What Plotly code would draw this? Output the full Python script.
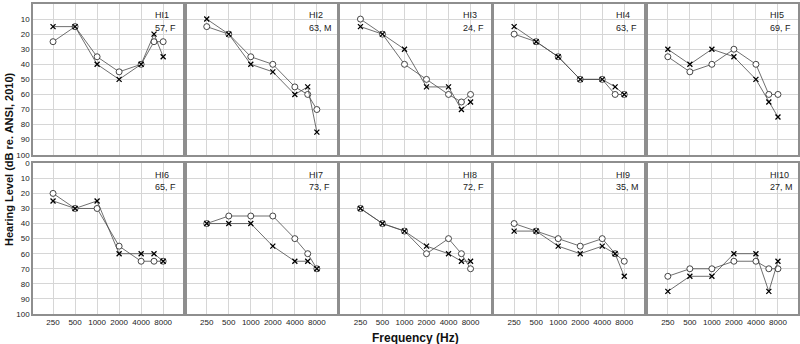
import plotly.graph_objects as go
from plotly.subplots import make_subplots
import math

freqs = [250, 500, 1000, 2000, 4000, 6000, 8000]
tick_freqs = [250, 500, 1000, 2000, 4000, 8000]
y_ticks = [0, 10, 20, 30, 40, 50, 60, 70, 80, 90, 100]

listeners = ["HI1", "HI2", "HI3", "HI4", "HI5", "HI6", "HI7", "HI8", "HI9", "HI10"]
age_sex = ["57, F", "63, M", "24, F", "63, F", "69, F", "65, F", "73, F", "72, F", "35, M", "27, M"]

circle_ear = [
    [25, 15, 35, 45, 40, 25, 25],
    [15, 20, 35, 40, 55, 60, 70],
    [10, 20, 40, 50, 60, 65, 60],
    [20, 25, 35, 50, 50, 60, 60],
    [35, 45, 40, 30, 40, 60, 60],
    [20, 30, 30, 55, 65, 65, 65],
    [40, 35, 35, 35, 50, 60, 70],
    [30, 40, 45, 60, 50, 60, 70],
    [40, 45, 50, 55, 50, 60, 65],
    [75, 70, 70, 65, 65, 70, 70],
]
cross_ear = [
    [15, 15, 40, 50, 40, 20, 35],
    [10, 20, 40, 45, 60, 55, 85],
    [15, 20, 30, 55, 55, 70, 65],
    [15, 25, 35, 50, 50, 55, 60],
    [30, 40, 30, 35, 50, 65, 75],
    [25, 30, 25, 60, 60, 60, 65],
    [40, 40, 40, 55, 65, 65, 70],
    [30, 40, 45, 55, 60, 65, 65],
    [45, 45, 55, 60, 55, 60, 75],
    [85, 75, 75, 60, 60, 85, 65],
]

W, H = 800, 344
ml, mr, mt, mb = 33, 2, 4, 30
pw = W - ml - mr
ph = H - mt - mb

fig = make_subplots(rows=2, cols=5, horizontal_spacing=3.5 / pw, vertical_spacing=8.5 / ph)

line_col = "#4a4a4a"
for i in range(10):
    r = i // 5 + 1
    c = i % 5 + 1
    fig.add_trace(go.Scatter(
        x=freqs, y=circle_ear[i], mode="lines+markers",
        line=dict(color=line_col, width=0.8),
        marker=dict(symbol="circle", size=6, color="white", line=dict(color="#333333", width=0.9)),
        showlegend=False, hoverinfo="skip"), row=r, col=c)
    fig.add_trace(go.Scatter(
        x=freqs, y=cross_ear[i], mode="lines+markers",
        line=dict(color=line_col, width=0.8),
        marker=dict(symbol="x-thin-open", size=5, color="black", line=dict(color="black", width=1.3)),
        showlegend=False, hoverinfo="skip"), row=r, col=c)

    ax = "" if i == 0 else str(i + 1)
    fig.add_annotation(xref="x" + ax + " domain", yref="y" + ax + " domain",
                       x=0.8, y=0.925, text=listeners[i], showarrow=False,
                       xanchor="left", yanchor="middle",
                       font=dict(family="Liberation Sans, Arial", size=9, color="#222"))
    fig.add_annotation(xref="x" + ax + " domain", yref="y" + ax + " domain",
                       x=0.8, y=0.84, text=age_sex[i], showarrow=False,
                       xanchor="left", yanchor="middle",
                       font=dict(family="Liberation Sans, Arial", size=9, color="#222"))

xr = [math.log10(250) - 0.274, math.log10(8000) + 0.274]
fig.update_xaxes(type="log", range=xr, tickvals=tick_freqs,
                 ticktext=[str(f) for f in tick_freqs],
                 showgrid=True, gridcolor="#d6d6d6", gridwidth=1,
                 showline=True, linecolor="#8e8e8e", linewidth=1.5, mirror=True,
                 ticks="", zeroline=False, automargin=False,
                 tickfont=dict(family="Liberation Sans, Arial", size=8, color="#222"))
fig.update_xaxes(showticklabels=False, row=1)
fig.update_yaxes(range=[100, 0], tickvals=y_ticks,
                 showgrid=True, gridcolor="#d6d6d6", gridwidth=1,
                 showline=True, linecolor="#8e8e8e", linewidth=1.5, mirror=True,
                 ticks="", zeroline=False, showticklabels=False, automargin=False,
                 tickfont=dict(family="Liberation Sans, Arial", size=8, color="#222"))
fig.update_yaxes(showticklabels=True, col=1)

fig.add_annotation(xref="paper", yref="paper", x=0.5, y=-(338 - (H - mb)) / ph, yanchor="middle",
                   text="<b>Frequency (Hz)</b>", showarrow=False,
                   font=dict(family="Liberation Sans, Arial", size=12, color="#111"))
fig.add_annotation(xref="paper", yref="paper", x=-(ml - 9) / pw, y=0.5, xanchor="center",
                   text="<b>Hearing Level (dB re. ANSI, 2010)</b>", showarrow=False,
                   textangle=-90,
                   font=dict(family="Liberation Sans, Arial", size=11, color="#111"))

fig.update_layout(width=W, height=H, margin=dict(l=ml, r=mr, t=mt, b=mb),
                  paper_bgcolor="white", plot_bgcolor="white")
fig.write_html("out.html", config={"displayModeBar": False},
               post_script="document.body.style.margin='0';document.body.style.padding='0';document.body.style.overflow='hidden';")
